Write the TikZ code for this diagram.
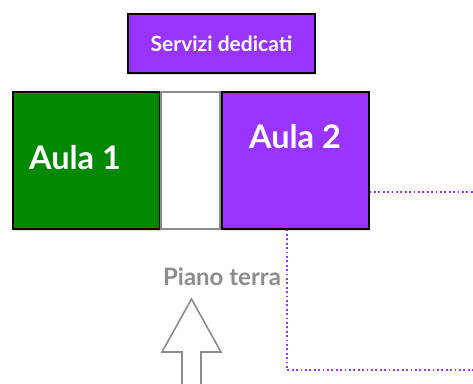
\documentclass[tikz,border=0pt]{standalone}
\usepackage{fontspec}
\setmainfont{Lato}
\usetikzlibrary{shadows}
\definecolor{violet2}{RGB}{153,51,255}
\definecolor{green2}{RGB}{0,136,0}
\definecolor{greyline}{RGB}{140,140,140}
\begin{document}
\begin{tikzpicture}[x=1pt,y=-1pt,
  room/.style={draw=black,line width=1.6pt,minimum width=147pt,minimum height=137pt,inner sep=0pt,
    drop shadow={opacity=0.25,shadow xshift=1pt,shadow yshift=-2pt}},
  roomtext/.style={text=white,font=\fontsize{32.5}{38}\selectfont\bfseries},
  dotline/.style={draw=violet2,line width=1.8pt,dash pattern=on 1.8pt off 2.6pt}]
\useasboundingbox (0,0) rectangle (473,383);
\node[draw=black,line width=1.6pt,fill=violet2,minimum width=187pt,minimum height=59pt,inner sep=0pt,
  drop shadow={opacity=0.25,shadow xshift=1pt,shadow yshift=-2pt},
  text=white,font=\fontsize{21}{25}\selectfont\bfseries] (serv) at (221.5,43.5) {Servizi dedicati};
\node[room,fill=green2] (aula1) at (86.5,160.5) {};
\node[roomtext] (t1) at (75,158) {Aula 1};
\node[draw=greyline,line width=1.6pt,fill=white,minimum width=59pt,minimum height=137pt,inner sep=0pt] (corr) at (190.5,160.5) {};
\node[room,fill=violet2] (aula2) at (295.5,160.5) {};
\node[roomtext] (t2) at (295,137) {Aula 2};
\node[text=greyline,font=\fontsize{24}{28}\selectfont\bfseries] (piano) at (222,277) {Piano terra};
\coordinate (a2r) at (369.5,192);
\coordinate (r1) at (473,192);
\coordinate (a2b) at (287,229.5);
\coordinate (c1) at (287,370);
\coordinate (r2) at (473,370);
\draw[dotline] (a2r) -- (r1);
\draw[dotline] (a2b) -- (c1) -- (r2);
\draw[greyline,line width=1.6pt,fill=white,line join=miter]
  (191.5,299) -- (221,352) -- (201,352) -- (201,390) -- (182,390) -- (182,352) -- (162,352) -- cycle;
\end{tikzpicture}
\end{document}
